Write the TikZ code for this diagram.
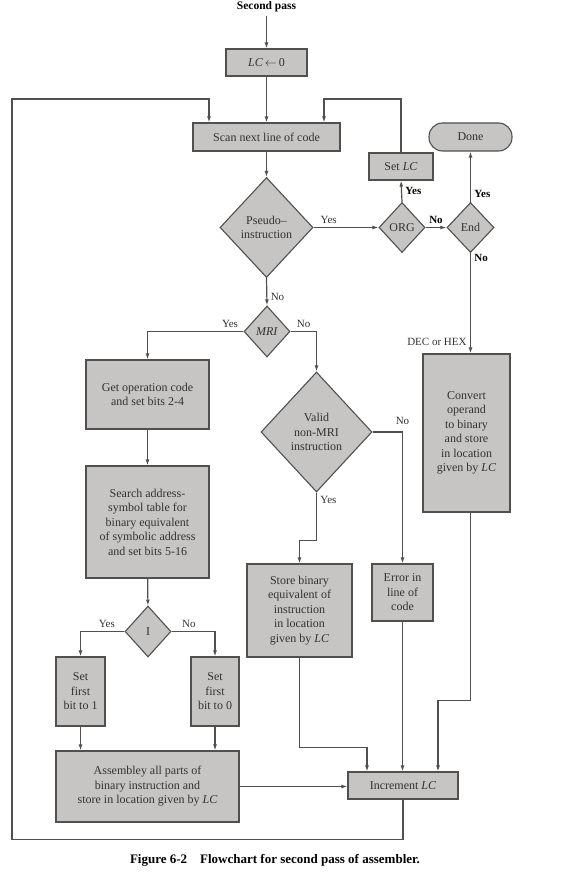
\documentclass[tikz,border=0pt]{standalone}
\usepackage{fontspec}
\setmainfont{Liberation Serif}
\usetikzlibrary{shapes.geometric,arrows.meta}
\definecolor{boxgray}{RGB}{199,197,196}
\definecolor{linegray}{RGB}{80,80,80}
\definecolor{inkgray}{RGB}{50,50,50}
\begin{document}
\begin{tikzpicture}[
  x=1pt,y=-1pt,
  font=\fontsize{12}{14.5}\selectfont,
  box/.style={draw=linegray, line width=1.1pt, fill=boxgray, text=inkgray, align=center, inner sep=1pt},
  test/.style={diamond, draw=linegray, line width=1.1pt, fill=boxgray, text=inkgray, align=center, inner sep=0pt},
  flow/.style={draw=linegray, line width=1.2pt, -{Latex[length=6pt,width=4pt]}},
  lbl/.style={font=\fontsize{11}{12}\selectfont, text=inkgray},
  blbl/.style={font=\fontsize{11}{12}\selectfont\bfseries, text=black}
]
\useasboundingbox (0,0) rectangle (569,874);
\coordinate (loopcorner) at (12,99);

\node[font=\fontsize{11.5}{13}\selectfont\bfseries] (pass) at (266.5,7) {Second pass};
\node[box, minimum width=81, minimum height=27] (lc) at (266.5,62.5) {\textit{LC}\,$\leftarrow$\,0};
\node[box, minimum width=147, minimum height=28] (scan) at (266.5,137) {Scan next line of code};
\node[test, minimum width=93, minimum height=100] (pseudo) at (266.5,227.5) {Pseudo–\\instruction};
\node[test, minimum width=46, minimum height=50] (org) at (402,227.5) {ORG};
\node[test, minimum width=47, minimum height=50] (isend) at (470.5,227.5) {End};
\node[box, minimum width=64, minimum height=27] (setlc) at (401,166.5) {Set \textit{LC}};
\node[box, rounded corners=13.5pt, minimum width=83, minimum height=28] (done) at (470.5,137) {Done};
\node[test, minimum width=46, minimum height=51] (mri) at (267,331.5) {\textit{MRI}};
\node[box, minimum width=123, minimum height=69] (getop) at (147.5,394.5) {Get operation code\\and set bits 2-4};
\node[box, minimum width=123, minimum height=112] (search) at (147.5,522) {Search address-\\symbol table for\\binary equivalent\\of symbolic address\\and set bits 5-16};
\node[test, minimum width=46, minimum height=51] (ibit) at (148,631.5) {I};
\node[box, minimum width=49, minimum height=69] (setone) at (80.5,691.5) {Set\\first\\bit to 1};
\node[box, minimum width=48, minimum height=69] (setzero) at (215,691.5) {Set\\first\\bit to 0};
\node[box, minimum width=183, minimum height=71] (assem) at (147.5,786.5) {Assembley all parts of\\binary instruction and\\store in location given by \textit{LC}};
\node[test, minimum width=111, minimum height=120] (valid) at (316.5,432) {Valid\\non-MRI\\instruction};
\node[box, minimum width=105, minimum height=93] (store) at (299.5,610.5) {Store binary\\equivalent of\\instruction\\in location\\given by \textit{LC}};
\node[box, minimum width=61, minimum height=57] (error) at (402.5,592.5) {Error in\\line of\\code};
\node[box, minimum width=87, minimum height=158] (conv) at (466.5,433) {Convert\\operand\\to binary\\and store\\in location\\given by \textit{LC}};
\node[box, minimum width=110, minimum height=27] (incr) at (403,785.5) {Increment \textit{LC}};
\node[font=\fontsize{13}{15}\selectfont\bfseries] (caption) at (275,860) {Figure 6-2\quad Flowchart for second pass of assembler.};

\draw[flow] (pass) -- (lc);
\draw[flow] (lc) -- (scan);
\draw[flow] (scan) -- (pseudo);
\draw[flow] (pseudo.east) -- node[pos=0.05, above right, lbl] {Yes} (org.west);
\draw[flow] (org.north) -- node[right, blbl] {Yes} (setlc.south);
\draw[flow] (setlc.north) -- (setlc.north |- loopcorner) -| ([xshift=57.5pt]scan.north);
\draw[flow] (org.east) -- node[above, blbl] {No} (isend.west);
\draw[flow] (isend.north) -- node[pos=0.15, right, blbl] {Yes} (done.south);
\draw[flow] (isend.south) -- node[pos=0.05, right, blbl] {No} node[pos=0.89, left, lbl] {DEC or HEX} (isend.south |- conv.north);
\draw[flow] (pseudo.south) -- node[pos=0.7, right, lbl] {No} (mri.north);
\draw[flow] (mri.west) -| node[pos=0.07, above, lbl] {Yes} (getop.north);
\draw[flow] (mri.east) -| node[pos=0.25, above, lbl] {No} (valid.north);
\draw[flow] (getop) -- (search);
\draw[flow] (search) -- (ibit);
\draw[flow] (ibit.west) -| node[pos=0.2, above, lbl] {Yes} (setone.north);
\draw[flow] (ibit.east) -| node[pos=0.2, above, lbl] {No} (setzero.north);
\draw[flow] (setone.south) -- (setone.south |- assem.north);
\draw[flow] (setzero.south) -- (setzero.south |- assem.north);
\draw[flow] (assem.east) -- (incr.west |- assem.east);
\draw[flow] (valid.east) -| node[pos=0.5, above=3pt, lbl] {No} (error.north);
\draw[flow] (valid.south) -- ++(0,48) node[pos=0.15, right, lbl] {Yes} -| (store.north);
\draw[flow] (store.south) -- ++(0,90) -| ([xshift=-36pt]incr.north);
\draw[flow] (error.south) -- (error.south |- incr.north);
\draw[flow] (isend.south |- conv.south) -- ++(0,188) -| ([xshift=35pt]incr.north);
\draw[flow] (incr.south) -- ++(0,40) -| (loopcorner) -| ([xshift=-57.5pt]scan.north);
\end{tikzpicture}
\end{document}
